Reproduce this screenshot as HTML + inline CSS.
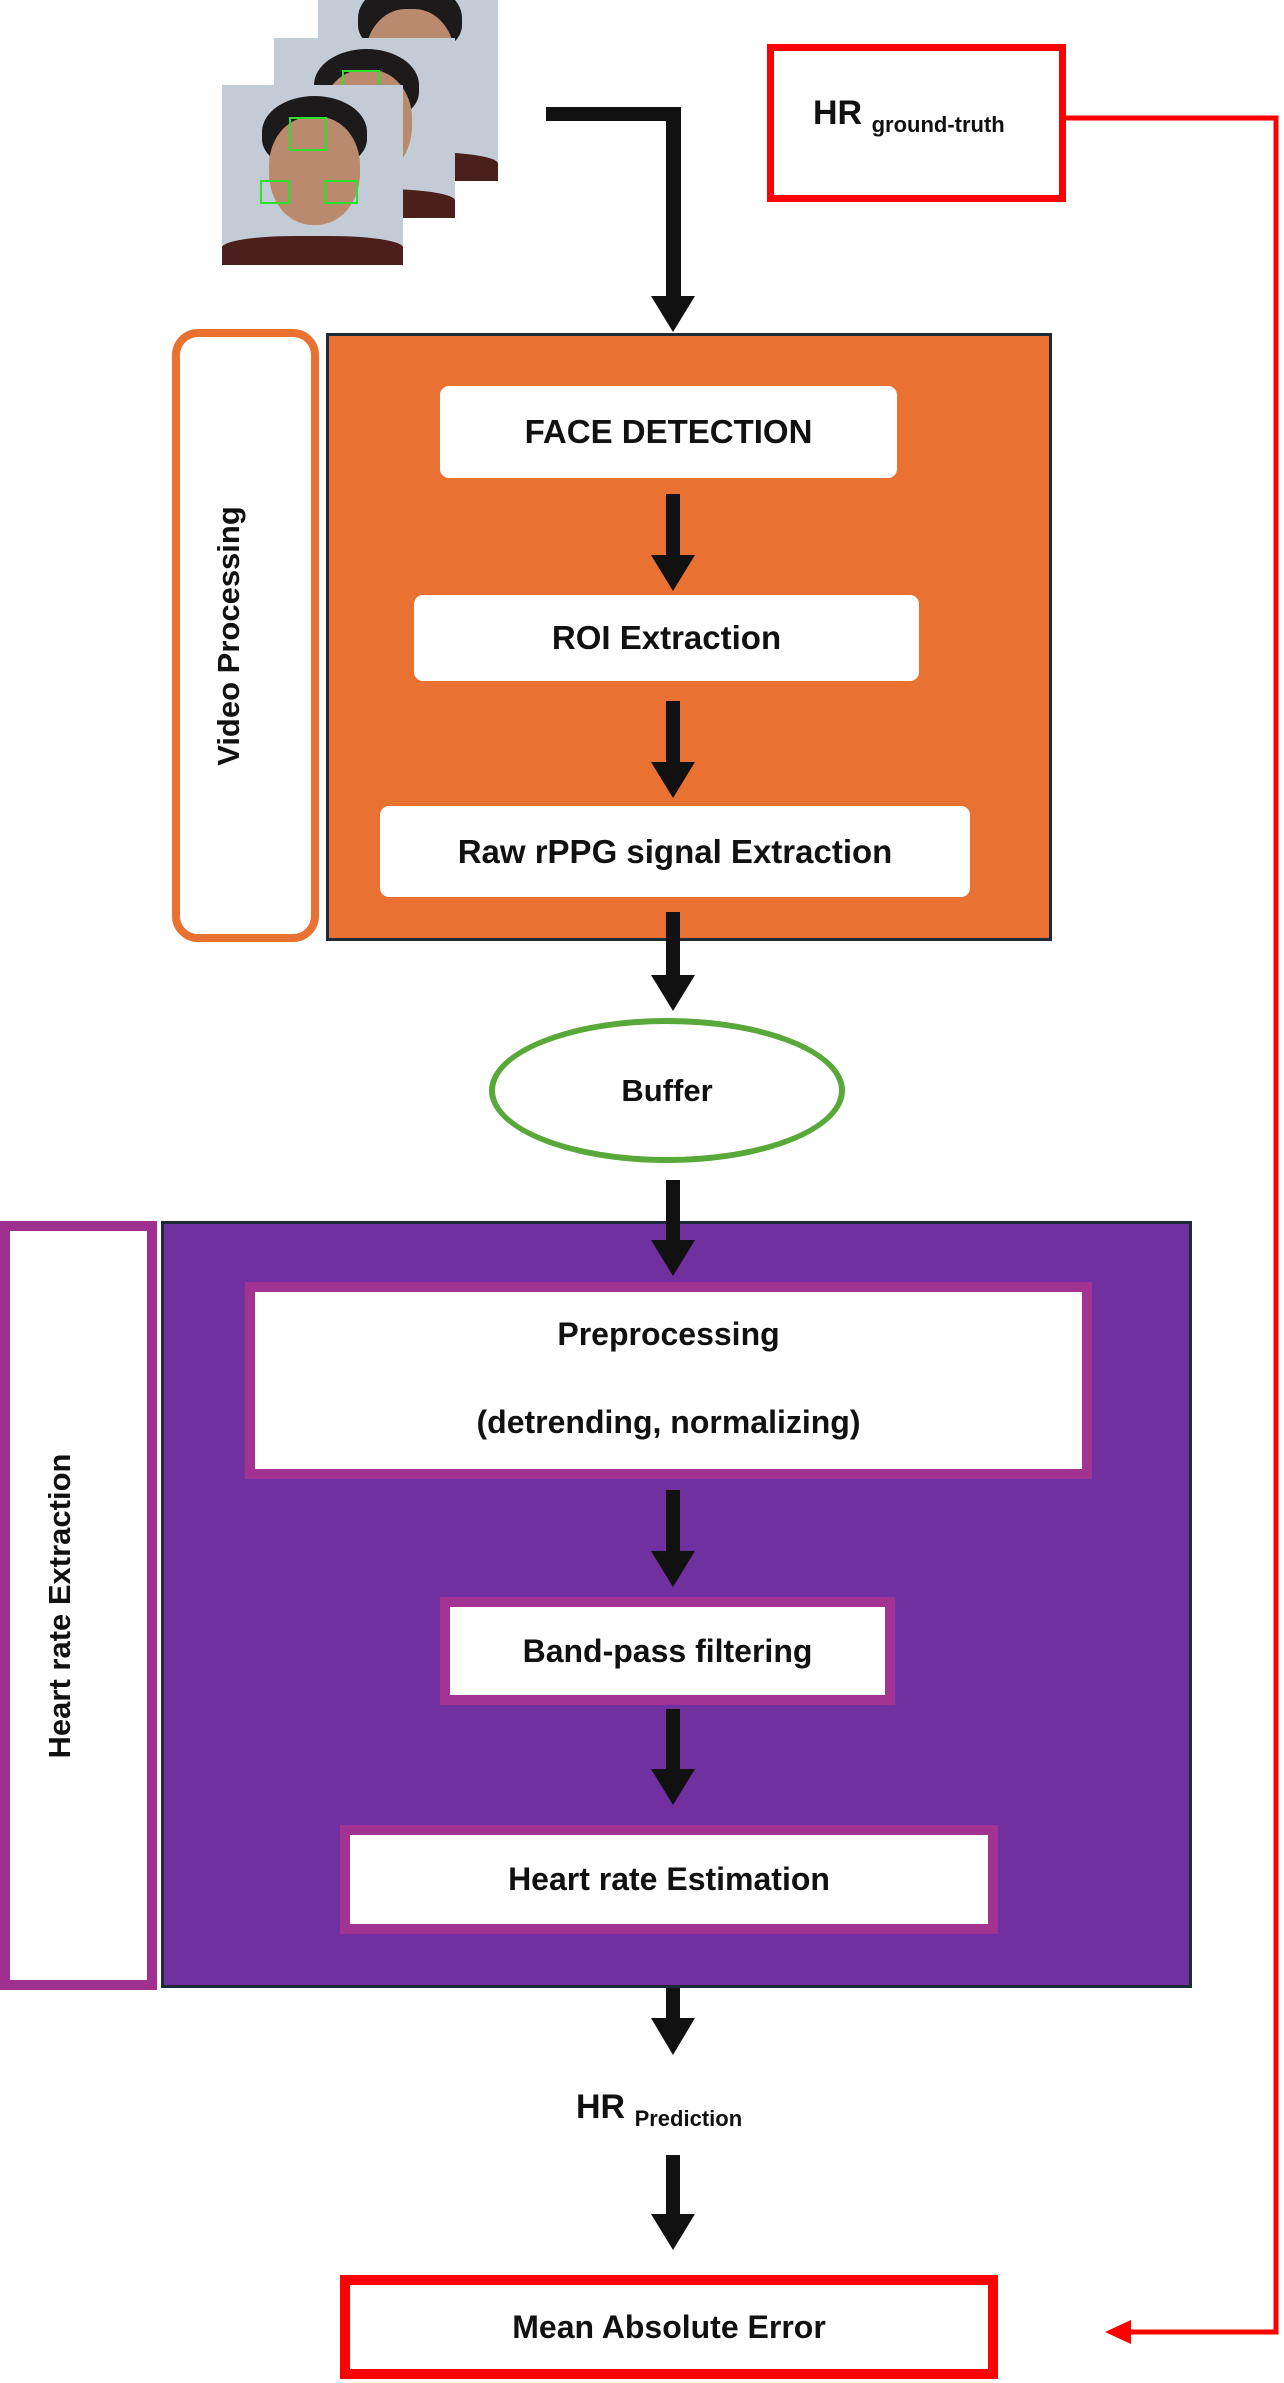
<!DOCTYPE html>
<html><head><meta charset="utf-8"><style>
body{margin:0;width:1284px;height:2383px;background:#fff;position:relative;overflow:hidden;font-family:"Liberation Sans",sans-serif;font-weight:bold;color:#111}
.a{position:absolute;box-sizing:border-box}
.wb{background:#fff;display:flex;align-items:center;justify-content:center;font-size:33px;text-align:center}
.photo{position:absolute;background:#c3ccd6;overflow:hidden}
.photo .hair{position:absolute;left:22%;top:6%;width:58%;height:40%;background:#1c1a1a;border-radius:50% 50% 40% 40%}
.photo .skin{position:absolute;left:26%;top:18%;width:50%;height:60%;background:#b98a6e;border-radius:45% 45% 48% 48%}
.photo .shirt{position:absolute;left:0;bottom:0;width:100%;height:16%;background:#4a1f1c;border-radius:40% 40% 0 0}
.photo .g{position:absolute;border:2px solid #2ee02e}
</style></head><body>

<div class="photo" style="left:318px;top:0;width:180px;height:181px">
 <div class="hair" style="top:-10%"></div><div class="skin" style="top:5%"></div><div class="shirt"></div>
</div>
<div class="photo" style="left:274px;top:38px;width:181px;height:180px">
 <div class="hair"></div><div class="skin"></div><div class="shirt"></div>
 <div class="g" style="left:68px;top:32px;width:34px;height:28px"></div>
</div>
<div class="photo" style="left:222px;top:85px;width:181px;height:180px">
 <div class="hair"></div><div class="skin"></div><div class="shirt"></div>
 <div class="g" style="left:67px;top:32px;width:34px;height:30px"></div>
 <div class="g" style="left:38px;top:95px;width:26px;height:20px"></div>
 <div class="g" style="left:102px;top:95px;width:30px;height:20px"></div>
</div>

<div class="a" style="left:767px;top:44px;width:299px;height:158px;border:7px solid #f00;background:#fff"></div>
<div class="a" style="left:813px;top:94px;font-size:34px;white-space:nowrap">HR <span style="font-size:22px;position:relative;top:8px">ground-truth</span></div>

<div class="a" style="left:172px;top:329px;width:147px;height:613px;border:8px solid #E97132;border-radius:26px;background:#fff"></div>
<div class="a" style="left:229px;top:636px;width:0;height:0"><div style="position:absolute;transform:translate(-50%,-50%) rotate(-90deg);white-space:nowrap;font-size:31px">Video Processing</div></div>
<div class="a" style="left:326px;top:333px;width:726px;height:608px;background:#E97132;border:3px solid #1d2b36"></div>
<div class="a wb" style="left:440px;top:386px;width:457px;height:92px;border-radius:9px">FACE DETECTION</div>
<div class="a wb" style="left:414px;top:595px;width:505px;height:86px;border-radius:9px">ROI Extraction</div>
<div class="a wb" style="left:380px;top:806px;width:590px;height:91px;border-radius:9px">Raw rPPG signal Extraction</div>

<div class="a wb" style="left:489px;top:1018px;width:356px;height:145px;border:6px solid #58A83A;border-radius:50%;font-size:31px">Buffer</div>

<div class="a" style="left:0;top:1221px;width:157px;height:769px;border:10px solid #A0308F;background:#fff"></div>
<div class="a" style="left:60px;top:1606px;width:0;height:0"><div style="position:absolute;transform:translate(-50%,-50%) rotate(-90deg);white-space:nowrap;font-size:31px">Heart rate Extraction</div></div>
<div class="a" style="left:161px;top:1221px;width:1031px;height:767px;background:#7030A0;border:3px solid #1d2b36"></div>
<div class="a wb" style="left:245px;top:1282px;width:847px;height:197px;border:10px solid #A33393;flex-direction:column;font-size:32px;line-height:1"><div style="margin-top:-6px">Preprocessing</div><div style="margin-top:56px">(detrending, normalizing)</div></div>
<div class="a wb" style="left:440px;top:1597px;width:455px;height:108px;border:10px solid #A33393;font-size:32px">Band-pass filtering</div>
<div class="a wb" style="left:340px;top:1825px;width:658px;height:109px;border:10px solid #A33393;font-size:32px">Heart rate Estimation</div>

<div class="a" style="left:576px;top:2088px;font-size:34px;white-space:nowrap">HR <span style="font-size:22px;position:relative;top:8px">Prediction</span></div>

<div class="a wb" style="left:340px;top:2275px;width:658px;height:104px;border:10px solid #f00;font-size:32px">Mean Absolute Error</div>

<svg class="a" style="left:0;top:0" width="1284" height="2383">
 <g fill="#111">
  <polygon points="546,107 681,107 681,296 695,296 673,332 651,296 666,296 666,121 546,121"/>
  <polygon points="666,494 680,494 680,555 695,555 673,591 651,555 666,555"/>
  <polygon points="666,701 680,701 680,762 695,762 673,798 651,762 666,762"/>
  <polygon points="666,912 680,912 680,975 695,975 673,1011 651,975 666,975"/>
  <polygon points="666,1180 680,1180 680,1240 695,1240 673,1276 651,1240 666,1240"/>
  <polygon points="666,1490 680,1490 680,1551 695,1551 673,1587 651,1551 666,1551"/>
  <polygon points="666,1709 680,1709 680,1769 695,1769 673,1805 651,1769 666,1769"/>
  <polygon points="666,1988 680,1988 680,2018 695,2018 673,2055 651,2018 666,2018"/>
  <polygon points="666,2155 680,2155 680,2214 695,2214 673,2250 651,2214 666,2214"/>
 </g>
 <polyline points="1066,118 1276,118 1276,2332 1125,2332" fill="none" stroke="#f00" stroke-width="5"/>
 <polygon points="1105,2332 1131,2320 1131,2344" fill="#f00"/>
</svg>
</body></html>
